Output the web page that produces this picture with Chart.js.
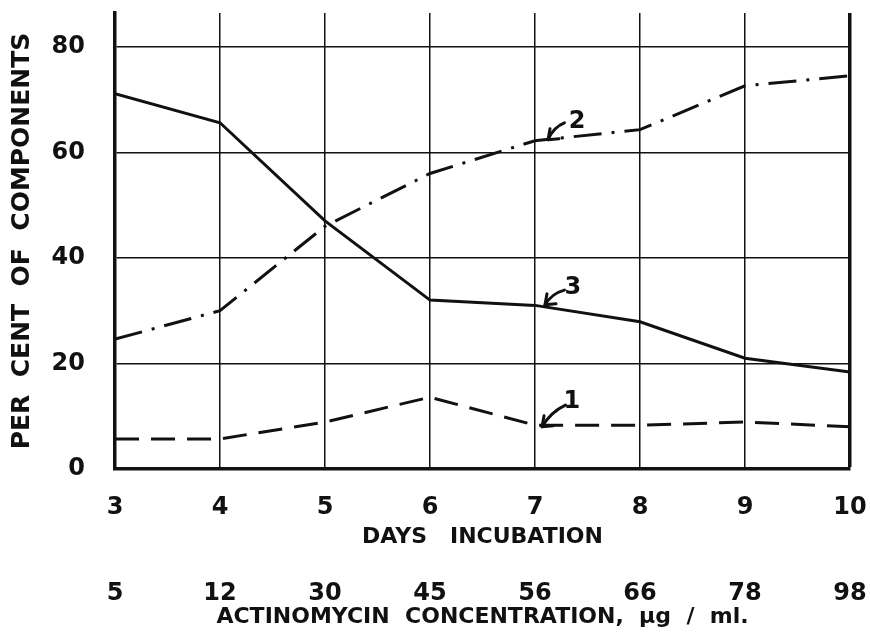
<!DOCTYPE html>
<html lang="en">
  <head>
    <meta charset="UTF-8" />
    <title>Per cent of components vs days incubation</title>
    <script src="https://cdn.jsdelivr.net/npm/chart.js"></script>
    <style>
      html, body { margin: 0; padding: 0; background: #fff; }
      #wrap { width: 870px; height: 634px; }
    </style>
  </head>
  <body>
    <div id="wrap"><canvas id="chart" width="870" height="634"></canvas></div>
    <script>
      const days = [3, 4, 5, 6, 7, 8, 9, 10];
      const concentration = ["5", "12", "30", "45", "56", "66", "78", "98"];
      const curve1 = [5.7, 5.7, 8.9, 13.6, 8.3, 8.3, 8.9, 8.0];
      const curve2 = [24.6, 30.0, 46.0, 56.0, 62.2, 64.3, 72.6, 74.5];
      const curve3 = [71.1, 65.6, 47.0, 32.0, 31.0, 27.9, 21.0, 18.4];
      const yTicks = [0, 20, 40, 60, 80];

      // curve numbers: text spot, start of the little arrow, arrow tip (all in data units)
      const curveLabels = [
        { text: "2", tx: 7.40, ty: 65.8, sx: 7.28, sy: 65.6, ax: 7.124, ay: 62.4 },
        { text: "3", tx: 7.36, ty: 34.3, sx: 7.28, sy: 33.9, ax: 7.095, ay: 31.1 },
        { text: "1", tx: 7.35, ty: 12.7, sx: 7.29, sy: 12.1, ax: 7.067, ay: 8.0 },
      ];

      const ink = "#111";
      const numFont = { family: "'DejaVu Sans', sans-serif", size: 24, weight: "bold" };
      const titleFont = { family: "'DejaVu Sans', sans-serif", size: 22, weight: "bold" };

      const toPts = (vals) => vals.map((v, i) => ({ x: days[i], y: v }));

      const curveLabelPlugin = {
        id: "curveLabels",
        afterDatasetsDraw(chart) {
          const { ctx } = chart;
          const xs = chart.scales.x, ys = chart.scales.y;
          ctx.save();
          ctx.strokeStyle = ink;
          ctx.fillStyle = ink;
          ctx.lineWidth = 3;
          ctx.lineCap = "round";
          ctx.lineJoin = "round";
          ctx.font = "bold 24px 'DejaVu Sans', sans-serif";
          ctx.textAlign = "center";
          ctx.textBaseline = "middle";
          curveLabels.forEach((c) => {
            const tx = xs.getPixelForValue(c.tx), ty = ys.getPixelForValue(c.ty);
            const sx = xs.getPixelForValue(c.sx), sy = ys.getPixelForValue(c.sy);
            const ax = xs.getPixelForValue(c.ax), ay = ys.getPixelForValue(c.ay);
            ctx.fillText(c.text, tx, ty);
            ctx.beginPath();
            ctx.moveTo(sx, sy);
            ctx.quadraticCurveTo((sx + ax) / 2 - 3, (sy + ay) / 2 - 4, ax, ay);
            ctx.stroke();
            ctx.beginPath();
            ctx.moveTo(ax + 2, ay - 11);
            ctx.lineTo(ax, ay);
            ctx.lineTo(ax + 11, ay - 1);
            ctx.stroke();
          });
          ctx.restore();
        },
      };

      const noSidePad = (s) => { s.paddingLeft = 0; s.paddingRight = 0; };

      new Chart(document.getElementById("chart"), {
        type: "line",
        data: {
          datasets: [
            { label: "1", data: toPts(curve1), borderColor: ink, borderWidth: 3, borderDash: [24, 12], pointRadius: 0, tension: 0 },
            { label: "2", data: toPts(curve2), borderColor: ink, borderWidth: 3, borderDash: [28, 10, 3, 10], pointRadius: 0, tension: 0 },
            { label: "3", data: toPts(curve3), borderColor: ink, borderWidth: 3, pointRadius: 0, tension: 0 },
          ],
        },
        options: {
          responsive: false,
          animation: false,
          layout: { padding: { top: 13, right: 20, bottom: 0, left: 0 } },
          plugins: { legend: { display: false }, tooltip: { enabled: false } },
          scales: {
            x: {
              type: "linear",
              position: "bottom",
              min: 3,
              max: 10,
              afterBuildTicks: (s) => { s.ticks = days.map((d) => ({ value: d })); },
              afterFit: (s) => { s.height = 90; noSidePad(s); },
              grid: {
                color: ink,
                lineWidth: (c) => (c.tick && c.tick.value === 10 ? 3.5 : 1.5),
                drawTicks: false,
              },
              border: { display: true, color: ink, width: 3.5 },
              ticks: { color: ink, font: numFont, padding: 24, maxRotation: 0, callback: (v) => String(v) },
              title: { display: true, text: "DAYS   INCUBATION", color: ink, font: titleFont, padding: { top: 0, bottom: 9 } },
            },
            x2: {
              type: "linear",
              position: "bottom",
              min: 3,
              max: 10,
              afterBuildTicks: (s) => { s.ticks = days.map((d) => ({ value: d })); },
              afterFit: (s) => { s.height = 75; noSidePad(s); },
              grid: { display: false, drawTicks: false },
              border: { display: false },
              ticks: { color: ink, font: numFont, padding: 20, maxRotation: 0, callback: (v) => concentration[days.indexOf(v)] },
              title: { display: true, text: "ACTINOMYCIN  CONCENTRATION,  \u00b5g  /  ml.", color: ink, font: titleFont, padding: { top: 0, bottom: 4 } },
            },
            y: {
              min: 0,
              max: 86.4,
              afterBuildTicks: (s) => { s.ticks = yTicks.map((v) => ({ value: v })); },
              afterFit: (s) => { s.width = 115; s.paddingTop = 0; s.paddingBottom = 0; },
              grid: { color: ink, lineWidth: 1.5, drawTicks: false },
              border: { display: true, color: ink, width: 3.5 },
              ticks: { color: ink, font: numFont, padding: 30 },
              title: { display: true, text: "PER  CENT  OF  COMPONENTS", color: ink, font: { family: "'DejaVu Sans', sans-serif", size: 25, weight: "bold" }, padding: { top: 7, bottom: 0 } },
            },
          },
        },
        plugins: [curveLabelPlugin],
      });
    </script>
  </body>
</html>
